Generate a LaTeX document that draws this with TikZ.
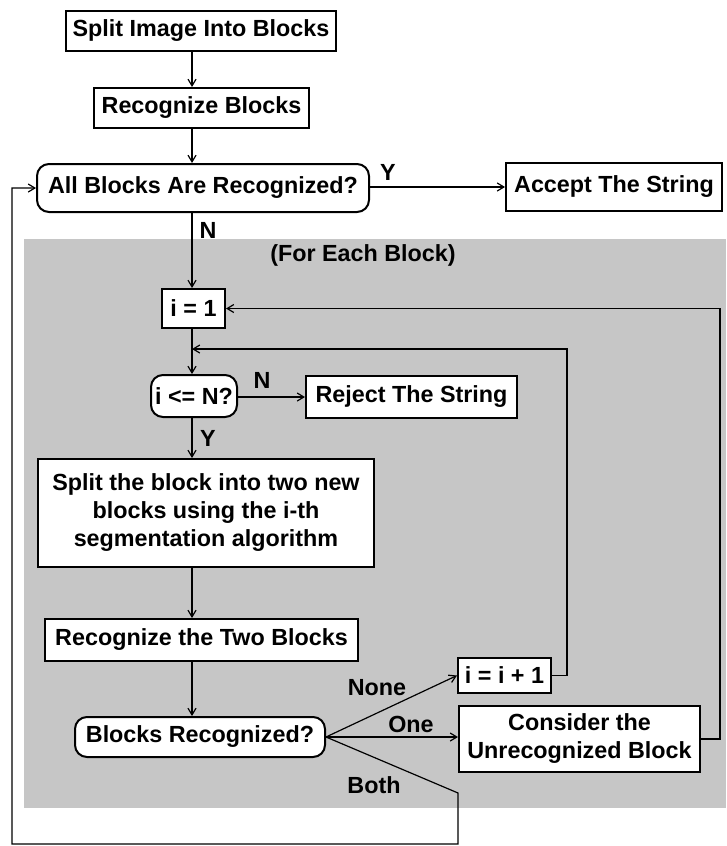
\documentclass[tikz,border=0pt]{standalone}
\usepackage{fontspec}
\setmainfont{Liberation Sans}
\usetikzlibrary{arrows.meta,calc,positioning}
\definecolor{panelgray}{HTML}{C6C6C6}
\tikzset{>={Straight Barb[length=5pt,width=6pt]},
  every node/.style={font=\bfseries\fontsize{17.5}{21}\selectfont},
  box/.style={draw,fill=white,line width=1.5pt,inner sep=0pt,align=center},
  term/.style={box,rounded corners=9pt},
  flow/.style={->,line width=.9pt},
  lab/.style={inner sep=1pt}}
\begin{document}
\begin{tikzpicture}[x=.75pt,y=-.75pt]
\useasboundingbox(0,0)rectangle(726,846);
\fill[panelgray](24,239)rectangle(726,808);
\coordinate(trunk)at(192,0);
\node[box,minimum width=270*.75pt,minimum height=40*.75pt](split)at(201,31){Split Image Into Blocks};
\node[box,minimum width=215*.75pt,minimum height=40*.75pt](recog)at(201.5,108){Recognize Blocks};
\node[term,minimum width=332*.75pt,minimum height=48*.75pt](allrec)at(203,188){All Blocks Are Recognized?};
\node[box,minimum width=216*.75pt,minimum height=48*.75pt](accept)at(614,187){Accept The String};
\node[lab](foreach)at(363,255){(For Each Block)};
\node[box,minimum width=63*.75pt,minimum height=39*.75pt](ione)at(193.5,308.5){i = 1};
\node[term,minimum width=86*.75pt,minimum height=42*.75pt](ileq)at(194,396){i <= N?};
\node[box,minimum width=211*.75pt,minimum height=42*.75pt](reject)at(411.5,397){Reject The String};
\node[box,minimum width=336*.75pt,minimum height=108*.75pt](splitblk)at(206,513){Split the block into two new\\blocks using the i-th\\segmentation algorithm};
\node[box,minimum width=313*.75pt,minimum height=42*.75pt](recogtwo)at(201.5,640){Recognize the Two Blocks};
\node[term,minimum width=250*.75pt,minimum height=40*.75pt](blkrec)at(200,737){Blocks Recognized?};
\node[box,minimum width=93*.75pt,minimum height=35*.75pt](inc)at(504.5,675.5){i = i + 1};
\node[box,minimum width=241*.75pt,minimum height=66*.75pt](consider)at(579.5,739){Consider the\\Unrecognized Block};
% main line
\draw[flow](split.south-|trunk)--(recog.north-|trunk);
\draw[flow](recog.south-|trunk)--(allrec.north-|trunk);
\draw[flow](allrec.east|-accept)--(accept.west);\node[lab]at(388,172){Y};
\draw[flow](allrec.south-|trunk)--(ione.north-|trunk);\node[lab]at(208,230){N};
\draw[flow](ione.south-|trunk)--(ileq.north-|trunk);
\draw[flow](ileq.east|-reject)--(reject.west);\node[lab]at(262,380){N};
\draw[flow](ileq.south-|trunk)--(splitblk.north-|trunk);\node[lab]at(208,438){Y};
\draw[flow](splitblk.south-|trunk)--(recogtwo.north-|trunk);
\draw[flow](recogtwo.south-|trunk)--(blkrec.north-|trunk);
% branches
\coordinate(fork)at(blkrec.east);
\draw[flow](fork)--(inc.west);\node[lab]at(377,688){None};
\draw[flow](fork)--(fork-|consider.west);\node[lab]at(411,724){One};
\draw[flow](fork)--(458,793)--(458,844)--(12,844)--(12,188)--(allrec.west);\node[lab]at(374,785){Both};
\draw[flow](inc.east)--(567,675.5)--(567,349)--(trunk|-0,349);
\draw[flow](consider.east)--(720,739)--(720,308.5)--(ione.east);
\end{tikzpicture}
\end{document}
